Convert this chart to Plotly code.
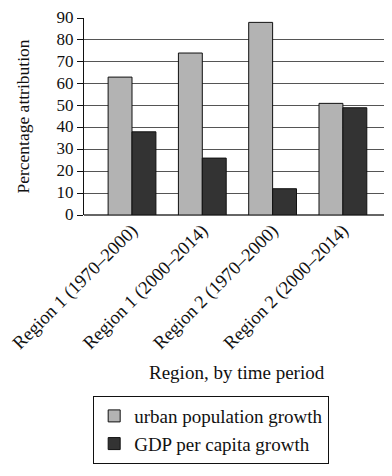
import plotly.graph_objects as go

categories = ["Region 1 (1970–2000)", "Region 1 (2000–2014)",
              "Region 2 (1970–2000)", "Region 2 (2000–2014)"]
urban_population_growth = [63, 74, 88, 51]
gdp_per_capita_growth = [38, 26, 12, 49]
y_ticks = [0, 10, 20, 30, 40, 50, 60, 70, 80, 90]

FONT = "Liberation Serif"
x_idx = list(range(len(categories)))

fig = go.Figure()
fig.add_trace(go.Bar(
    x=x_idx, y=urban_population_growth, name="urban population growth",
    marker=dict(color="#b3b3b3", line=dict(color="#111111", width=1)),
    legendgroup="a"))
fig.add_trace(go.Bar(
    x=x_idx, y=gdp_per_capita_growth, name="GDP per capita growth",
    marker=dict(color="#333333", line=dict(color="#111111", width=1)),
    legendgroup="b"))

fig.update_layout(
    width=384, height=468,
    margin=dict(l=76, r=2, t=10, b=261),
    paper_bgcolor="white", plot_bgcolor="white",
    font=dict(family=FONT, size=18, color="#111111"),
    barmode="group", bargap=0.32, bargroupgap=0,
    showlegend=True,
    legend=dict(x=0.03, y=-0.919, xanchor="left", yanchor="top",
                bordercolor="#111111", borderwidth=1,
                font=dict(family=FONT, size=19), tracegroupgap=8,
                traceorder="normal"),
    xaxis=dict(range=[-0.683, 3.67], tickmode="array", tickvals=x_idx,
               ticktext=categories, tickangle=-45, showgrid=False,
               showline=False, zeroline=False, ticks="", automargin=False,
               ticklabeloverflow="allow",
               tickfont=dict(family=FONT, size=18.5)),
    yaxis=dict(range=[0, 90], tickmode="array", tickvals=y_ticks,
               showgrid=True, gridcolor="#555555", gridwidth=1,
               showline=True, linecolor="#111111", linewidth=1,
               ticks="outside", ticklen=6, tickcolor="#111111",
               zeroline=True, zerolinecolor="#666666", zerolinewidth=2,
               automargin=False, ticklabeloverflow="allow",
               ticklabelshift=-1,
               tickfont=dict(family=FONT, size=17),
               title=dict(text="Percentage attribution", standoff=22,
                          font=dict(family=FONT, size=17.5))),
    annotations=[dict(text="Region, by time period", xref="paper", yref="paper",
                      x=0.5, y=-0.797, xanchor="center", yanchor="middle",
                      showarrow=False, font=dict(family=FONT, size=19))],
)

fig.write_html("out.html")
